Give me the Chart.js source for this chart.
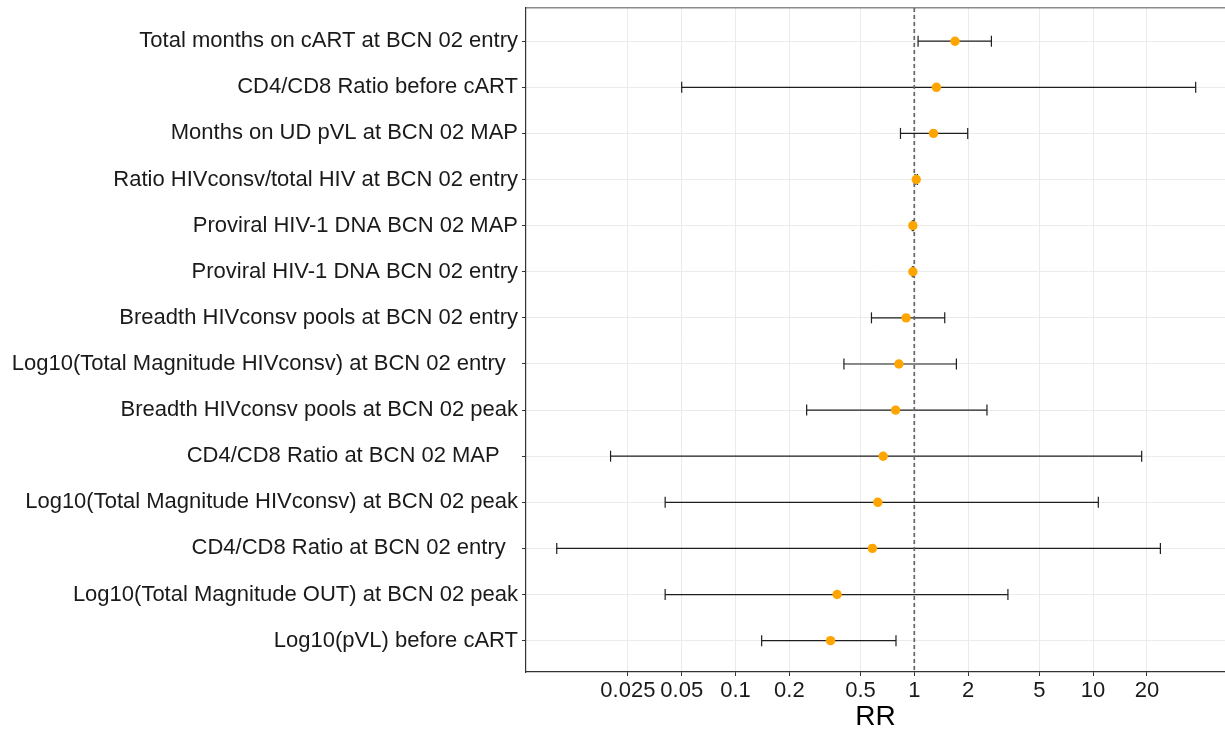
<!DOCTYPE html>
<html>
<head>
<meta charset="utf-8">
<script src="https://cdn.jsdelivr.net/npm/chart.js@4/dist/chart.umd.min.js"></script>
<style>
  html, body { margin: 0; padding: 0; background: #fff; }
  #wrap { width: 1225px; height: 730px; }
</style>
</head>
<body>
<div id="wrap"><canvas id="forestChart" width="1225" height="730"></canvas></div>
<script>
// ---------------------------------------------------------------------------
// Data, rows top to bottom
// ---------------------------------------------------------------------------
const rowLabels = [
    "Total months on cART at BCN 02 entry",
    "CD4/CD8 Ratio before cART",
    "Months on UD pVL at BCN 02 MAP",
    "Ratio HIVconsv/total HIV at BCN 02 entry",
    "Proviral HIV-1 DNA BCN 02 MAP",
    "Proviral HIV-1 DNA BCN 02 entry",
    "Breadth HIVconsv pools at BCN 02 entry",
    "Log10(Total Magnitude HIVconsv) at BCN 02 entry  ",
    "Breadth HIVconsv pools at BCN 02 peak",
    "CD4/CD8 Ratio at BCN 02 MAP   ",
    "Log10(Total Magnitude HIVconsv) at BCN 02 peak",
    "CD4/CD8 Ratio at BCN 02 entry  ",
    "Log10(Total Magnitude OUT) at BCN 02 peak",
    "Log10(pVL) before cART",
];
const rrValues = [1.69, 1.33, 1.28, 1.026, 0.982, 0.982, 0.90, 0.82, 0.786, 0.67, 0.625, 0.583, 0.37, 0.34];
const ciLower  = [1.05, 0.050, 0.837, 1.01, 0.975, 0.975, 0.576, 0.404, 0.25, 0.020, 0.0404, 0.010, 0.0404, 0.140];
const ciUpper  = [2.70, 37.5, 1.99, 1.04, 0.99, 0.99, 1.48, 1.72, 2.55, 18.7, 10.7, 23.8, 3.34, 0.79];

const xTicks = [0.025, 0.05, 0.1, 0.2, 0.5, 1, 2, 5, 10, 20];
const xTickLabels = ["0.025", "0.05", "0.1", "0.2", "0.5", "1", "2", "5", "10", "20"];
const refValue = 1;

// ---------------------------------------------------------------------------
// Styling
// ---------------------------------------------------------------------------
const FONT = "'Liberation Sans', Arial, sans-serif";
const X_MIN = 0.00673;
const X_MAX = 54.7;
const Y_MIN = -0.72;
const Y_MAX = 13.68;

/**
 * One short line dataset per row: the confidence interval with end caps
 */
function buildErrorBarDatasets() {
    return rowLabels.map((label, i) => ({
        label: `ci-${i}`,
        data: [{ x: ciLower[i], y: i }, { x: ciUpper[i], y: i }],
        showLine: true,
        borderColor: "#1e1e1e",
        borderWidth: 1.2,
        pointStyle: "line",
        rotation: 90,
        pointRadius: 5.5,
        pointBorderWidth: 1.2,
        pointBorderColor: "#1e1e1e",
        order: 3,
    }));
}

const datasets = [
    ...buildErrorBarDatasets(),
    {
        label: "reference",
        data: [{ x: refValue, y: Y_MIN }, { x: refValue, y: Y_MAX }],
        showLine: true,
        borderColor: "#666",
        borderWidth: 1.7,
        borderDash: [4, 3],
        pointRadius: 0,
        order: 2,
    },
    {
        label: "RR",
        data: rrValues.map((v, i) => ({ x: v, y: i })),
        backgroundColor: "#FFA500",
        borderColor: "#FFA500",
        pointRadius: 4.7,
        pointBorderWidth: 0,
        order: 1,
    },
];

// strip the automatic label overhang padding so the plot panel keeps its size
function noEdgePadding(scale) {
    scale.paddingLeft = 0;
    scale.paddingRight = 0;
    scale.paddingTop = 0;
    scale.paddingBottom = 0;
}

const chart = new Chart(document.getElementById("forestChart").getContext("2d"), {
    type: "scatter",
    data: { datasets },
    options: {
        responsive: false,
        animation: false,
        layout: { autoPadding: false, padding: { top: 8, right: 0, bottom: 0, left: 0 } },
        plugins: {
            legend: { display: false },
            tooltip: { enabled: false },
        },
        scales: {
            x: {
                type: "logarithmic",
                position: "bottom",
                min: X_MIN,
                max: X_MAX,
                afterBuildTicks: (scale) => {
                    scale.ticks = xTicks.map((v) => ({ value: v }));
                },
                afterFit: (scale) => {
                    scale.height = 58;
                    noEdgePadding(scale);
                },
                grid: { color: "#ebebeb", lineWidth: 1, tickColor: "#333", tickLength: 4 },
                border: { display: true, color: "#333", width: 1.2 },
                ticks: {
                    color: "#1a1a1a",
                    font: { family: FONT, size: 22 },
                    padding: 2,
                    maxRotation: 0,
                    autoSkip: false,
                    callback: (value, index) => xTickLabels[index],
                },
                title: {
                    display: true,
                    text: "RR",
                    color: "#000",
                    font: { family: FONT, size: 28, lineHeight: 0.9 },
                    padding: { top: 0, bottom: 0 },
                },
            },
            xTop: {
                type: "logarithmic",
                position: "top",
                min: X_MIN,
                max: X_MAX,
                afterFit: (scale) => {
                    scale.height = 0;
                    noEdgePadding(scale);
                },
                grid: { display: false },
                ticks: { display: false },
                border: { display: true, color: "#8a8a8a", width: 1.5 },
            },
            y: {
                type: "linear",
                reverse: true,
                min: Y_MIN,
                max: Y_MAX,
                afterBuildTicks: (scale) => {
                    scale.ticks = rowLabels.map((_, i) => ({ value: i }));
                },
                afterFit: (scale) => {
                    scale.width = 526;
                    noEdgePadding(scale);
                },
                grid: { color: "#ebebeb", lineWidth: 1, tickColor: "#333", tickLength: 4 },
                border: { display: true, color: "#333", width: 1.2 },
                ticks: {
                    color: "#1a1a1a",
                    font: { family: FONT, size: 22 },
                    padding: 4,
                    autoSkip: false,
                    callback: (value) => rowLabels[value],
                },
            },
        },
    },
});
</script>
</body>
</html>
